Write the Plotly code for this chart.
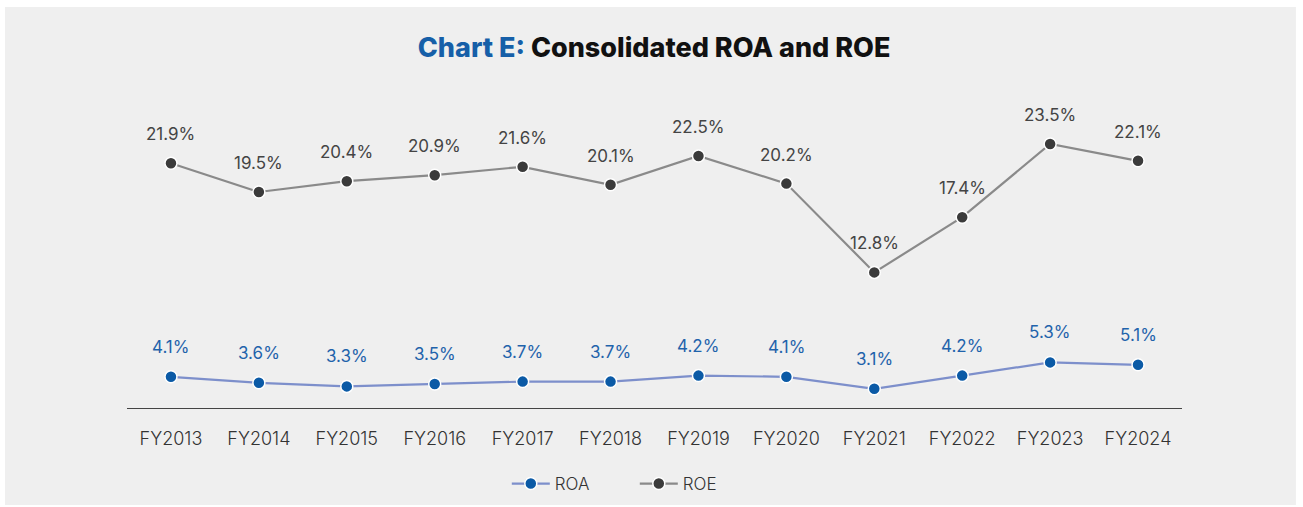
import plotly.graph_objects as go

years = ["FY2013", "FY2014", "FY2015", "FY2016", "FY2017", "FY2018",
         "FY2019", "FY2020", "FY2021", "FY2022", "FY2023", "FY2024"]
roa = [4.1, 3.6, 3.3, 3.5, 3.7, 3.7, 4.2, 4.1, 3.1, 4.2, 5.3, 5.1]
roe = [21.9, 19.5, 20.4, 20.9, 21.6, 20.1, 22.5, 20.2, 12.8, 17.4, 23.5, 22.1]

FONT = "Inter, Roboto, sans-serif"
fig = go.Figure()

fig.add_trace(go.Scatter(
    x=years, y=roa, name="ROA", mode="lines+markers",
    line=dict(color="#7d8fcb", width=2.2),
    marker=dict(size=12, color="#0b5aa6", line=dict(color="white", width=1.5)),
))
fig.add_trace(go.Scatter(
    x=years, y=roe, name="ROE", mode="lines+markers",
    line=dict(color="#8a8a8a", width=2.2),
    marker=dict(size=12, color="#3b3b3b", line=dict(color="white", width=1.5)),
))

annotations = []
for x, v in zip(years, roa):
    annotations.append(dict(x=x, y=v, xref="x", yref="y", text=f"{v:.1f}%",
                            showarrow=False, yshift=30,
                            font=dict(family=FONT, size=17, color="#1f63ab")))
for x, v in zip(years, roe):
    annotations.append(dict(x=x, y=v, xref="x", yref="y", text=f"{v:.1f}%",
                            showarrow=False, yshift=29,
                            font=dict(family=FONT, size=17, color="#444444")))

fig.update_layout(
    width=1303, height=507,
    margin=dict(l=127, r=121, t=102, b=99),
    paper_bgcolor="white",
    plot_bgcolor="rgba(0,0,0,0)",
    title=dict(
        text="<span style='color:#165fa8'>Chart E:</span> Consolidated ROA and ROE",
        x=0.502, xanchor="center", y=0.907, yanchor="middle",
        font=dict(family=FONT, size=27, color="#111111", weight=800),
    ),
    xaxis=dict(
        type="category", range=[-0.5, 11.5], automargin=False,
        showgrid=False, zeroline=False,
        showline=True, linecolor="#444444", linewidth=1.3,
        ticks="", tickfont=dict(family=FONT, size=18, color="#333333", weight=300),
        ticklabelstandoff=14,
    ),
    yaxis=dict(range=[1.5, 27], visible=False, showgrid=False, zeroline=False,
               automargin=False),
    showlegend=True,
    legend=dict(orientation="h", x=0.360, xanchor="left",
                yref="container", y=1 - 484 / 507, yanchor="middle",
                font=dict(family=FONT, size=17, color="#333333", weight=300),
                bgcolor="rgba(0,0,0,0)", itemwidth=38,
                entrywidth=75, entrywidthmode="pixels"),
    annotations=annotations,
    shapes=[dict(type="rect", xref="paper", yref="paper", layer="below",
                 x0=-0.1156, x1=1.108, y0=-0.317, y1=1.3105,
                 fillcolor="#efefef", line=dict(width=0))],
)

fig.write_html("out.html", config={"displayModeBar": False},
               post_script="document.body.style.margin='0';document.body.style.padding='0';")
